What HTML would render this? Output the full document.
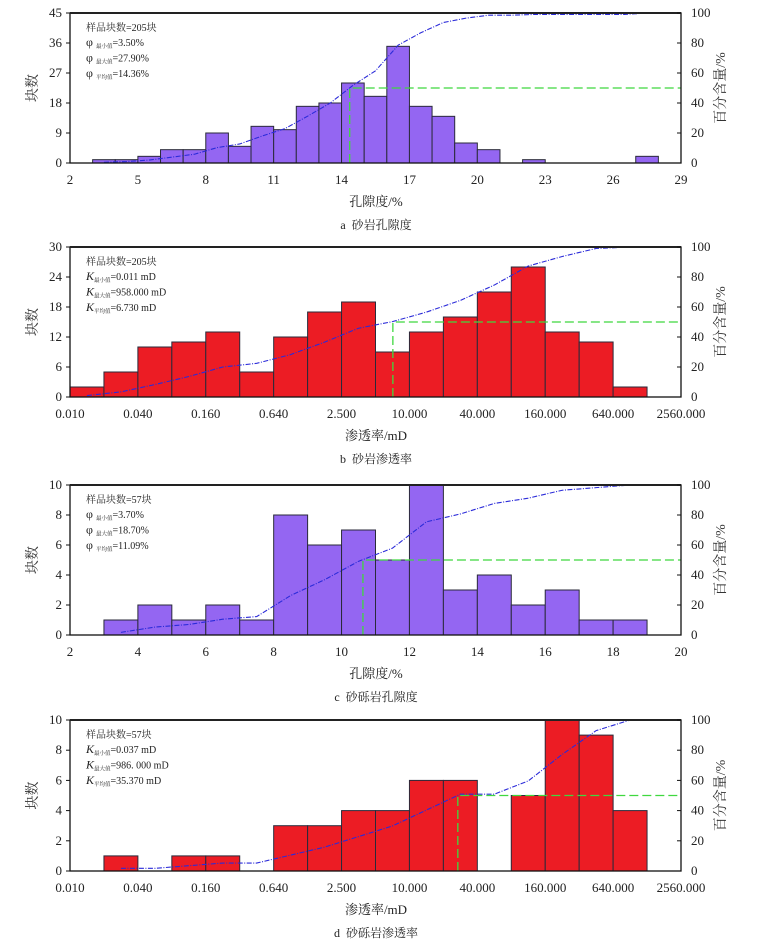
<!DOCTYPE html>
<html><head><meta charset="utf-8">
<style>
html,body{margin:0;padding:0;background:#fff;}
svg{display:block;font-family:"Liberation Serif","Noto Serif CJK SC","Noto Sans CJK SC",serif;}
</style></head>
<body>
<svg id="fig" width="762" height="949" viewBox="0 0 762 949" xmlns="http://www.w3.org/2000/svg"></svg>
<script>
// Panel a: sandstone porosity
const aBinStarts = [2,3,4,5,6,7,8,9,10,11,12,13,14,15,16,17,18,19,20,21,22,23,24,25,26,27];
const aCounts = [0,1,1,2,4,4,9,5,11,10,17,18,24,20,35,17,14,6,4,0,1,0,0,0,0,2];
const aXTicks = [2,5,8,11,14,17,20,23,26,29];
const aYTicks = [0,9,18,27,36,45];
const aMedian = [14.36];
// Panel b: sandstone permeability (log4 bins, half tick width)
const bCounts = [2,5,10,11,13,5,12,17,19,9,13,16,21,26,13,11,2,0];
const bXTicks = ["0.010","0.040","0.160","0.640","2.500","10.000","40.000","160.000","640.000","2560.000"];
const bYTicks = [0,6,12,18,24,30];
const bMedian = [7.3];
// Panel c: conglomeratic sandstone porosity
const cBinStarts = [2,3,4,5,6,7,8,9,10,11,12,13,14,15,16,17,18];
const cCounts = [0,1,2,1,2,1,8,6,7,5,10,3,4,2,3,1,1];
const cXTicks = [2,4,6,8,10,12,14,16,18,20];
const cYTicks = [0,2,4,6,8,10];
const cMedian = [10.63];
// Panel d: conglomeratic sandstone permeability
const dCounts = [0,1,0,1,1,0,3,3,4,4,6,6,0,5,10,9,4,0];
const dXTicks = ["0.010","0.040","0.160","0.640","2.500","10.000","40.000","160.000","640.000","2560.000"];
const dYTicks = [0,2,4,6,8,10];
const dMedian = [27.5];
const pctTicks = [0,20,40,60,80,100];

const NS = "http://www.w3.org/2000/svg";
const svg = document.getElementById('fig');
function mk(tag, attrs, parent, text){
  const e = document.createElementNS(NS, tag);
  for (const k in attrs) e.setAttribute(k, attrs[k]);
  if (text !== undefined) e.textContent = text;
  (parent || svg).appendChild(e);
  return e;
}

const X0 = 70, X1 = 681;

function panel(cfg){
  const g = mk('g', {});
  
  
  const top = cfg.top, bot = cfg.bot;
  const ymax = cfg.yTicks[cfg.yTicks.length-1];
  const ys = v => bot - v / ymax * (bot - top);
  const ps = v => bot - v / 100 * (bot - top);
  const xs = cfg.xs;
  const total = cfg.counts.reduce((a,b)=>a+b,0);
  let cum = 0; const pts = [];
  let started = false;
  for (let i = 0; i < cfg.counts.length; i++){
    const c = cfg.counts[i];
    const xa = xs(cfg.binLo(i)), xb = xs(cfg.binLo(i)+cfg.binW);
    if (c > 0){
      const r = mk('rect', {x:xa, y:ys(c), width:xb-xa, height:bot-ys(c), fill:cfg.color, stroke:'#2a2a3a', 'stroke-width':1}, g);
      
      
    }
    cum += c;
    if (c > 0) started = true;
    if (started && !(pts.length && pts[pts.length-1][2] >= total)) {
      pts.push([(xa+xb)/2, ps(cum/total*100), cum]);
    } else if (started && c > 0) {
      pts.push([(xa+xb)/2, ps(100), cum]);
    }
  }
  const cl = mk('polyline', {points: pts.map(p=>p[0]+','+p[1]).join(' '), fill:'none', stroke:'#2b2bd9', 'stroke-width':1.1, 'stroke-dasharray':'5,1.5,1,1.5'}, g);
  
  
  const mx = xs(cfg.medianX(cfg.median[0]));
  const ml = mk('polyline', {points: mx+','+bot+' '+mx+','+ps(50)+' '+X1+','+ps(50), fill:'none', stroke:'#3fd83f', 'stroke-width':1.3, 'stroke-dasharray':'9,4'}, g);
  
  
  const fr = mk('rect', {x:X0, y:top, width:X1-X0, height:bot-top, fill:'none', stroke:'#111', 'stroke-width':1.3}, g);
  
  
  mk('line', {x1:X0, y1:top, x2:X1, y2:top, stroke:'#222', 'stroke-width':2}, g);
  cfg.yTicks.forEach(t=>{
    mk('line', {x1:X0-4, y1:ys(t), x2:X0, y2:ys(t), stroke:'#111'}, g);
    const tx = mk('text', {x:X0-8, y:ys(t)+4, 'font-size':13, 'text-anchor':'end', fill:'#222'}, g, t);
    
    
  });
  pctTicks.forEach(t=>{
    mk('line', {x1:X1, y1:ps(t), x2:X1-4, y2:ps(t), stroke:'#111'}, g);
    const tx = mk('text', {x:X1+10, y:ps(t)+4, 'font-size':13, fill:'#222'}, g, t);
    
    
  });
  cfg.xTicks.forEach((t,i)=>{
    const x = xs(cfg.tickPos(t,i));
    const tx = mk('text', {x:x, y:bot+21, 'font-size':13, 'text-anchor':'middle', fill:'#222'}, g, t);
    
    
  });
  const mid = (top+bot)/2;
  const yt = mk('text', {x:0, y:0, 'font-size':14, 'text-anchor':'middle', fill:'#333', transform:'translate(37,'+mid+') rotate(-90)'}, g, '块数');
  
  
  const rt = mk('text', {x:0, y:0, 'font-size':14, 'text-anchor':'middle', fill:'#333', transform:'translate(725,'+mid+') rotate(-90)'}, g, '百分含量/%');
  
  
  const xt = mk('text', {x:376, y:bot+43, 'font-size':13, 'text-anchor':'middle', fill:'#222'}, g, cfg.xTitle);
  
  
  const cap = mk('text', {x:376, y:bot+66, 'font-size':12, 'text-anchor':'middle', fill:'#222'}, g, cfg.caption);
  
  
  const ann = mk('g', {'font-size':10, fill:'#222'}, g);
  
  
  mk('text', {x:86, y:top+18}, ann, '样品块数=' + cfg.n + '块');
  const subs = ['最小值','最大值','平均值'];
  cfg.stats.forEach((s,i)=>{
    const t = mk('text', {x:86, y:top+33+i*15.5}, ann);
    mk('tspan', {'font-style': cfg.sym==='K'?'italic':'normal', 'font-size':12}, t, cfg.sym);
    mk('tspan', {'font-size':5.5, dy:2, dx: cfg.sym==='K'?0:3}, t, subs[i]);
    mk('tspan', {dy:-2}, t, '=' + s);
  });
}

function linX(lo, hi){ return v => X0 + (v-lo)/(hi-lo)*(X1-X0); }
const logX = v => X0 + v/9*(X1-X0);
const log4 = v => Math.log(v/0.01)/Math.log(4);

panel({id:'a', top:13, bot:163, color:'#9466f2', counts:aCounts, binLo:i=>aBinStarts[i], binW:1,
  xs:linX(2,29), xTicks:aXTicks, tickPos:t=>t, yTicks:aYTicks, median:aMedian, medianX:v=>v,
  xTitle:'孔隙度/%', caption:'a\u00a0\u00a0砂岩孔隙度', n:205, sym:'φ', stats:['3.50%','27.90%','14.36%']});
panel({id:'b', top:247, bot:397, color:'#ec1c24', counts:bCounts, binLo:i=>i*0.5, binW:0.5,
  xs:logX, xTicks:bXTicks, tickPos:(t,i)=>i, yTicks:bYTicks, median:bMedian, medianX:log4,
  xTitle:'渗透率/mD', caption:'b\u00a0\u00a0砂岩渗透率', n:205, sym:'K', stats:['0.011 mD','958.000 mD','6.730 mD']});
panel({id:'c', top:485, bot:635, color:'#9466f2', counts:cCounts, binLo:i=>cBinStarts[i], binW:1,
  xs:linX(2,20), xTicks:cXTicks, tickPos:t=>t, yTicks:cYTicks, median:cMedian, medianX:v=>v,
  xTitle:'孔隙度/%', caption:'c\u00a0\u00a0砂砾岩孔隙度', n:57, sym:'φ', stats:['3.70%','18.70%','11.09%']});
panel({id:'d', top:720, bot:871, color:'#ec1c24', counts:dCounts, binLo:i=>i*0.5, binW:0.5,
  xs:logX, xTicks:dXTicks, tickPos:(t,i)=>i, yTicks:dYTicks, median:dMedian, medianX:log4,
  xTitle:'渗透率/mD', caption:'d\u00a0\u00a0砂砾岩渗透率', n:57, sym:'K', stats:['0.037 mD','986. 000 mD','35.370 mD']});
</script>
</body></html>
